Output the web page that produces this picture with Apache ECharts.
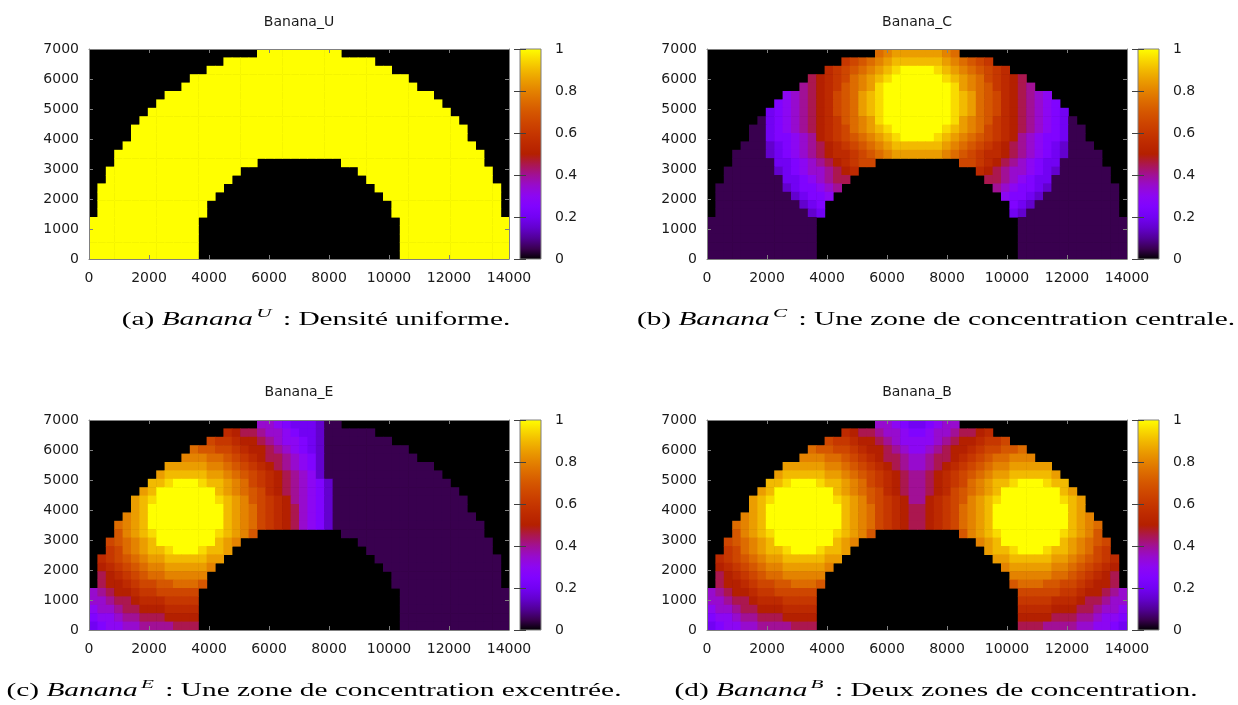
<!DOCTYPE html>
<html>
<head>
<meta charset="utf-8">
<script src="https://cdn.jsdelivr.net/npm/echarts@6/dist/echarts.min.js"></script>
<style>
html,body{margin:0;padding:0;background:#fff;}
#chart{width:1238px;height:705px;}
</style>
</head>
<body>
<div id="chart"></div>
<script>
// ---- data ----
// Each panel: 25 rows (top row first), 50 columns of 280x280 cells.
// Row format "startColumn:codes[;startColumn:codes]"; code letter a..u = density 0..1 in steps of 0.05,
// a letter followed by a number repeats it. Cells not listed are outside the banana (black background).
const CELL = 280;
const X_MAX = 14000, Y_MAX = 7000;

const bananaU = [
  "20:u10","16:u18","14:u22","12:u26","11:u28","9:u32","8:u34","7:u36","6:u38",
  "5:u40","5:u40","4:u42","3:u44",
  "3:u17;30:u17","2:u16;32:u16","2:u15;33:u15","1:u15;34:u15","1:u14;35:u14",
  "1:u13;36:u13","1:u13;36:u13",
  "0:u13;37:u13","0:u13;37:u13","0:u13;37:u13","0:u13;37:u13","0:u13;37:u13"
];

const bananaC = [
  "20:pqr6qp",
  "16:mnopqrs6rqponm",
  "14:lmnopqrstu4tsrqponml",
  "12:jklmnpqrstu6tsrqpnmlkj",
  "11:ijklmopqrtu8trqpomlkji",
  "9:ghijklnoprstu8tsrponlkjihg",
  "8:fghijklnoprstu8tsrponlkjihgf",
  "7:efghijklnoprstu8tsrponlkjihgfe",
  "6:befghijklmopqrtu8trqpomlkjihgfeb",
  "5:bbefghijklmnpqrstu6tsrqpnmlkjihgfebb",
  "5:bbeffghiklmnopqrstu4tsrqponmlkihgffebb",
  "4:bbbdefghijklmnopqrs6rqponmlkjihgfedbbb",
  "3:b4defghijkllmnopqr6qponmllkjihgfedb4",
  "3:b5eefghijklmnn;30:nnmlkjihgfeeb5",
  "2:b6defghhijkl;32:lkjihhgfedb6",
  "2:b7eefghijj;33:jjihgfeeb7",
  "1:b8deffghi;34:ihgffedb8",
  "1:b9deffg;35:gffedb9",
  "1:b10def;36:fedb10",
  "1:b11de;36:edb11",
  "0:b13;37:b13","0:b13;37:b13","0:b13;37:b13","0:b13;37:b13","0:b13;37:b13"
];

const bananaE = [
  "20:hhgfeeedb2",
  "16:lkjjihhgfeedb6",
  "14:nmmlkkjihggfedb8",
  "12:poonnmlkkjihgfedb10",
  "11:qqqpponmlkjjihgfdb11",
  "9:r5q2ponmlkjihgfdb13",
  "8:rs5r2qponmlkjihgdb14",
  "7:s2tu3ts2rqpnmlkjihgfdb14",
  "6:rsu7srqponlkjihgfdb15",
  "5:rstu7tsrqonmlkihgfdb16",
  "5:rsu9srqpnmlkjhgfdb16",
  "4:qrsu9srqpnmlkjhgfdb17",
  "3:pqrsu9srqpnmlkjhgfdb18",
  "3:oqrstu7tsrqo;30:b17",
  "2:nopqrsu7srq;32:b16",
  "2:mnpqrs2tu3ts2r;33:b15",
  "1:lmnopqr2s5r2;34:b15",
  "1:klmnopq2r5q;35:b14",
  "1:jklmnop2q5;36:b13",
  "1:jk2lmn2o2p3o;36:b13",
  "0:hijk2lm2n5;37:b13",
  "0:h2ij2kl3m4;37:b13",
  "0:gh2ij2k3l4;37:b13",
  "0:fg2hi2j3k4;37:b13",
  "0:efg2h2i4j3;37:b13"
];

const bananaB = [
  "20:hhgfeefghh",
  "16:lkjjihhgffghhijjkl",
  "14:nmmlkkjihgggghijkklmmn",
  "12:poonnmlkkjihgghijkklmnnoop",
  "11:qqqpponmlkjjihhijjklmnoppqqq",
  "9:r5q2ponmlkjihhijklmnopq2r5",
  "8:rs5r2qponmlkjiijklmnopqr2s5r",
  "7:s2tu3ts2rqpnmlkjiijklmnpqrs2tu3ts2",
  "6:rsu7srqponlkjiijklnopqrsu7sr",
  "5:rstu7tsrqonmlkiiklmnoqrstu7tsr",
  "5:rsu9srqpnmlkjjklmnpqrsu9sr",
  "4:qrsu9srqpnmlkjjklmnpqrsu9srq",
  "3:pqrsu9srqpnmlkjjklmnpqrsu9srqp",
  "3:oqrstu7tsrqo;30:oqrstu7tsrqo",
  "2:nopqrsu7srq;32:qrsu7srqpon",
  "2:mnpqrs2tu3ts2r;33:rs2tu3ts2rqpnm",
  "1:lmnopqr2s5r2;34:r2s5r2qponml",
  "1:klmnopq2r5q;35:qr5q2ponmlk",
  "1:jklmnop2q5;36:q5p2onmlkj",
  "1:jk2lmn2o2p3o;36:op3o2n2mlk2j",
  "0:hijk2lm2n5;37:n5m2lk2jih",
  "0:h2ij2kl3m4;37:m4l3kj2ih2",
  "0:gh2ij2k3l4;37:l4k3j2ih2g",
  "0:fg2hi2j3k4;37:k4j3i2hg2f",
  "0:efg2h2i4j3;37:j3i4h2g2fe"
];

const panelTitles = ["Banana_U", "Banana_C", "Banana_E", "Banana_B"];
const captionLetters = ["a", "b", "c", "d"];
const captionSups = ["U", "C", "E", "B"];
const captionTexts = [
  "Densité uniforme.",
  "Une zone de concentration centrale.",
  "Une zone de concentration excentrée.",
  "Deux zones de concentration."
];

// gnuplot default palette (rgbformulae 7,5,15), 21 stops from 0 to 1
const palette = ['#000000','#39004f','#510096','#6301ce','#7202f3','#8004ff','#8c07f3','#970bce','#a11096','#ab174f',
  '#b42000','#bd2a00','#c63700','#ce4600','#d55700','#dd6c00','#e48300','#eb9d00','#f2ba00','#f9db00','#ffff00'];

// ---- decode rows into [x0, y0, value] cells ----
function decode(rows) {
  const out = [];
  const n = rows.length;
  rows.forEach((row, r) => {
    const j = n - 1 - r;
    row.split(';').forEach(seg => {
      const parts = seg.split(':');
      let i = parseInt(parts[0], 10);
      const re = /([a-u])(\d*)/g;
      let m;
      while ((m = re.exec(parts[1])) !== null) {
        const cnt = m[2] ? parseInt(m[2], 10) : 1;
        const v = (m[1].charCodeAt(0) - 97) / 20;
        for (let k = 0; k < cnt; k++) { out.push([i * CELL, j * CELL, v]); i++; }
      }
    });
  });
  return out;
}
const panelData = [bananaU, bananaC, bananaE, bananaB].map(decode);

// ---- layout ----
const PW = 420, PH = 210;
const layout = [
  { left: 89, top: 49, titleY: 22, capX: 316, capY: 320 },
  { left: 707, top: 49, titleY: 22, capX: 936, capY: 320 },
  { left: 89, top: 420, titleY: 392, capX: 314, capY: 691 },
  { left: 707, top: 420, titleY: 392, capX: 936, capY: 691 }
];
const TXT = '#1a1a1a', FRAME = '#808080';
const tickLabel = { fontFamily: 'DejaVu Sans', fontSize: 14, color: TXT };
const CAP_FONT = 'Liberation Serif';

const grids = [], xAxes = [], yAxes = [], series = [], graphics = [];

const gradient = {
  type: 'linear', x: 0, y: 1, x2: 0, y2: 0,
  colorStops: palette.map((c, k) => ({ offset: k / (palette.length - 1), color: c }))
};

function renderCell(params, api) {
  const x = api.value(0), y = api.value(1);
  const a = api.coord([x, y + CELL]);
  const b = api.coord([x + CELL, y]);
  return {
    type: 'rect',
    shape: { x: a[0], y: a[1], width: b[0] - a[0] + 0.6, height: b[1] - a[1] + 0.6 },
    style: { fill: api.visual('color') }
  };
}

layout.forEach((L, k) => {
  const gPlot = grids.length;
  grids.push({ left: L.left, top: L.top, width: PW, height: PH, show: true, backgroundColor: '#000', borderWidth: 0, containLabel: false, outerBoundsMode: 'none' });
  const gBar = grids.length;
  grids.push({ left: L.left + 431, top: L.top, width: 21, height: PH, show: true, backgroundColor: gradient, borderColor: FRAME, borderWidth: 1, containLabel: false, outerBoundsMode: 'none' });

  const frameAxis = (extra) => Object.assign({
    type: 'value', z: 5, splitLine: { show: false },
    axisLine: { show: true, onZero: false, lineStyle: { color: FRAME, width: 1 } },
    axisTick: { show: true, inside: true, length: 4, lineStyle: { color: FRAME } }
  }, extra);

  const xb = xAxes.length;
  xAxes.push(frameAxis({ gridIndex: gPlot, position: 'bottom', min: 0, max: X_MAX, interval: 2000,
    axisLabel: Object.assign({ margin: 12, formatter: v => String(v) }, tickLabel) }));
  xAxes.push(frameAxis({ gridIndex: gPlot, position: 'top', min: 0, max: X_MAX, interval: 2000, axisLabel: { show: false } }));
  const yl = yAxes.length;
  yAxes.push(frameAxis({ gridIndex: gPlot, position: 'left', min: 0, max: Y_MAX, interval: 1000,
    axisLabel: Object.assign({ margin: 10, formatter: v => String(v) }, tickLabel) }));
  yAxes.push(frameAxis({ gridIndex: gPlot, position: 'right', min: 0, max: Y_MAX, interval: 1000, axisLabel: { show: false } }));

  // colour bar axes
  xAxes.push({ gridIndex: gBar, type: 'value', min: 0, max: 1, show: false });
  yAxes.push({ gridIndex: gBar, type: 'value', position: 'right', min: 0, max: 1, interval: 0.2, z: 5,
    splitLine: { show: false }, axisLine: { show: false },
    axisTick: { show: true, inside: true, length: 6, lineStyle: { color: '#404040' } },
    axisLabel: Object.assign({ margin: 14 }, tickLabel) });
  yAxes.push({ gridIndex: gBar, type: 'value', position: 'left', min: 0, max: 1, interval: 0.2, z: 5,
    splitLine: { show: false }, axisLine: { show: false },
    axisTick: { show: true, inside: true, length: 6, lineStyle: { color: '#404040' } },
    axisLabel: { show: false } });

  series.push({
    type: 'custom', coordinateSystem: 'cartesian2d', xAxisIndex: xb, yAxisIndex: yl,
    data: panelData[k], encode: { x: 0, y: 1 }, renderItem: renderCell,
    clip: true, silent: true, animation: false, progressive: 0
  });

  graphics.push({
    type: 'text', x: L.left + PW / 2, y: L.titleY,
    style: { text: panelTitles[k], fontFamily: 'DejaVu Sans', fontSize: 14, fill: TXT,
      align: 'center', verticalAlign: 'middle', textAlign: 'center', textVerticalAlign: 'middle' }
  });
  graphics.push({
    type: 'text', x: L.capX, y: L.capY, scaleX: 1.63, scaleY: 1,
    style: {
      text: '(' + captionLetters[k] + ') {it|Banana}{sup|' + captionSups[k] + '}: ' + captionTexts[k],
      fontFamily: CAP_FONT, fontSize: 18, lineHeight: 26, fill: '#000',
      align: 'center', verticalAlign: 'middle', textAlign: 'center', textVerticalAlign: 'middle',
      rich: {
        it: { fontFamily: CAP_FONT, fontSize: 18, fontStyle: 'italic', lineHeight: 26, fill: '#000' },
        sup: { fontFamily: CAP_FONT, fontSize: 13, fontStyle: 'italic', verticalAlign: 'top', lineHeight: 14, fill: '#000', padding: [0, 7, 0, 2] }
      }
    }
  });
});

const chart = echarts.init(document.getElementById('chart'), null, { renderer: 'canvas' });
chart.setOption({
  animation: false,
  backgroundColor: '#fff',
  grid: grids,
  xAxis: xAxes,
  yAxis: yAxes,
  visualMap: [{ type: 'continuous', show: false, min: 0, max: 1, dimension: 2,
    seriesIndex: [0, 1, 2, 3], inRange: { color: palette } }],
  series: series,
  graphic: { elements: graphics }
});
</script>
</body>
</html>
